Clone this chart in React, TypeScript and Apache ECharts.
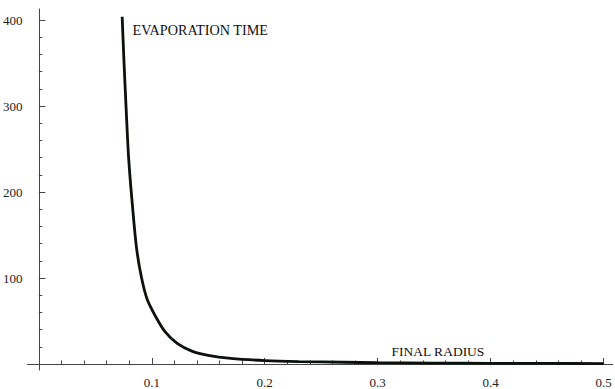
import React, { useEffect, useRef } from "react";
import * as echarts from "echarts";

// Final radius (x) and evaporation time (y)
const radius = [0.0738, 0.0753, 0.0772, 0.0795, 0.0825, 0.0865, 0.091, 0.096, 0.1035, 0.1115, 0.1225, 0.1355, 0.15, 0.17, 0.2, 0.23, 0.27, 0.3, 0.35, 0.4, 0.45, 0.5];
const evapTime = [404, 355, 300, 240, 190, 135, 100, 75, 55, 38, 24, 15, 10, 6.5, 4, 2.8, 2, 1.5, 1.1, 0.8, 0.6, 0.5];

const xMajorTicks = [0.1, 0.2, 0.3, 0.4, 0.5];
const xMinorTicks = [0.02, 0.04, 0.06, 0.08, 0.12, 0.14, 0.16, 0.18, 0.22, 0.24, 0.26, 0.28, 0.32, 0.34, 0.36, 0.38, 0.42, 0.44, 0.46, 0.48];
const yMajorTicks = [100, 200, 300, 400];
const yMinorTicks = [20, 40, 60, 80, 120, 140, 160, 180, 220, 240, 260, 280, 320, 340, 360, 380];

const xLabel = "FINAL RADIUS";
const yLabel = "EVAPORATION TIME";

const FONT = "Liberation Serif";
const AXIS_COLOR = "#444";

export default function App() {
  const ref = useRef<HTMLDivElement>(null);

  useEffect(() => {
    if (!ref.current) return;
    const chart = echarts.init(ref.current, null, { renderer: "svg" });
    const data = radius.map((r, i) => [r, evapTime[i]]);
    const X_MIN = -0.01;
    const X_MAX = 0.508;
    const Y_MIN = -7;
    const Y_MAX = 413;

    const baseX = {
      type: "value",
      min: X_MIN,
      max: X_MAX,
      position: "bottom",
      splitLine: { show: false },
    };
    const baseY = {
      type: "value",
      min: Y_MIN,
      max: Y_MAX,
      position: "left",
      splitLine: { show: false },
    };

    chart.setOption({
      animation: false,
      backgroundColor: "#fff",
      grid: { left: 26.1, right: 2.3, top: 9, bottom: 14, containLabel: false },
      xAxis: [
        {
          ...baseX,
          axisLine: { show: true, onZero: true, onZeroAxisIndex: 0, lineStyle: { color: AXIS_COLOR, width: 1 } },
          axisTick: { show: true, inside: true, length: 6, customValues: xMajorTicks, lineStyle: { color: AXIS_COLOR, width: 1 } },
          axisLabel: {
            show: true,
            customValues: xMajorTicks,
            formatter: (v: number) => String(Math.round(v * 10) / 10),
            fontFamily: FONT,
            fontSize: 13,
            color: "#222",
            margin: 6,
          },
        },
        {
          ...baseX,
          axisLine: { show: false, onZero: true, onZeroAxisIndex: 0 },
          axisTick: { show: true, inside: true, length: 3.5, customValues: xMinorTicks, lineStyle: { color: AXIS_COLOR, width: 1 } },
          axisLabel: { show: false },
        },
      ],
      yAxis: [
        {
          ...baseY,
          axisLine: { show: true, onZero: true, onZeroAxisIndex: 0, lineStyle: { color: AXIS_COLOR, width: 1 } },
          axisTick: { show: true, inside: true, length: 6.5, customValues: yMajorTicks, lineStyle: { color: AXIS_COLOR, width: 1 } },
          axisLabel: {
            show: true,
            customValues: yMajorTicks,
            fontFamily: FONT,
            fontSize: 13,
            color: "#222",
            margin: 5,
          },
        },
        {
          ...baseY,
          axisLine: { show: false, onZero: true, onZeroAxisIndex: 0 },
          axisTick: { show: true, inside: true, length: 3.5, customValues: yMinorTicks, lineStyle: { color: AXIS_COLOR, width: 1 } },
          axisLabel: { show: false },
        },
      ],
      series: [
        {
          type: "line",
          xAxisIndex: 0,
          yAxisIndex: 0,
          data,
          showSymbol: false,
          smooth: 0.3,
          clip: true,
          lineStyle: { color: "#0b110b", width: 2.8 },
          z: 5,
        },
      ],
      graphic: [
        {
          type: "text",
          left: 132.5,
          top: 22.5,
          style: { text: yLabel, fontFamily: FONT, fontSize: 14.2, fill: "#111" },
        },
        {
          type: "text",
          left: 391.5,
          top: 344,
          style: { text: xLabel, fontFamily: FONT, fontSize: 13.5, fill: "#111" },
        },
      ],
    });
    return () => chart.dispose();
  }, []);

  return <div ref={ref} style={{ position: "absolute", left: 0, top: 0, width: 615, height: 389 }} />;
}
